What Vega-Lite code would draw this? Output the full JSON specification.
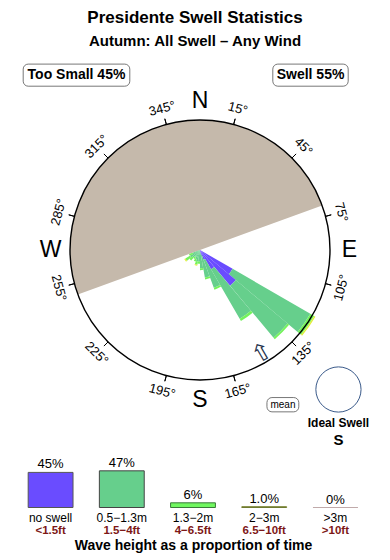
{
  "$schema": "https://vega.github.io/schema/vega-lite/v6.json",
  "width": 390,
  "height": 504,
  "autosize": {"type": "none"},
  "padding": {"top": 56, "left": 0, "right": 0, "bottom": 0},
  "config": {"view": {"stroke": null}, "font": "Liberation Sans"},
  "title": {
    "text": "Presidente Swell Statistics",
    "subtitle": "Autumn: All Swell – Any Wind",
    "anchor": "middle", "frame": "group",
    "font": "Liberation Sans", "fontSize": 17, "fontWeight": "bold", "color": "#000",
    "subtitleFont": "Liberation Sans", "subtitleFontSize": 15, "subtitleFontWeight": "bold", "subtitleColor": "#000",
    "subtitlePadding": 7, "offset": 6
  },
  "datasets": {
    "petals": [
      {"d0":120,"d1":130,"cls":"no swell","k":1,"f":2.9},
      {"d0":120,"d1":130,"cls":"0.5−1.3m","k":2,"f":6.9},
      {"d0":120,"d1":130,"cls":"1.3−2m","k":3,"f":0.35},
      {"d0":120,"d1":130,"cls":"2−3m","k":4,"f":0.1},
      {"d0":130,"d1":140,"cls":"no swell","k":1,"f":3.6},
      {"d0":130,"d1":140,"cls":"0.5−1.3m","k":2,"f":5.2},
      {"d0":130,"d1":140,"cls":"1.3−2m","k":3,"f":0.15},
      {"d0":140,"d1":150,"cls":"no swell","k":1,"f":1.7},
      {"d0":140,"d1":150,"cls":"0.5−1.3m","k":2,"f":4.4},
      {"d0":140,"d1":150,"cls":"1.3−2m","k":3,"f":0.2},
      {"d0":150,"d1":160,"cls":"no swell","k":1,"f":0.8},
      {"d0":150,"d1":160,"cls":"0.5−1.3m","k":2,"f":2.3},
      {"d0":150,"d1":160,"cls":"1.3−2m","k":3,"f":0.15},
      {"d0":160,"d1":170,"cls":"no swell","k":1,"f":0.4},
      {"d0":160,"d1":170,"cls":"0.5−1.3m","k":2,"f":1.75},
      {"d0":160,"d1":170,"cls":"1.3−2m","k":3,"f":0.15},
      {"d0":170,"d1":180,"cls":"no swell","k":1,"f":0.2},
      {"d0":170,"d1":180,"cls":"0.5−1.3m","k":2,"f":1.2},
      {"d0":170,"d1":180,"cls":"1.3−2m","k":3,"f":0.15},
      {"d0":180,"d1":190,"cls":"0.5−1.3m","k":2,"f":0.9},
      {"d0":180,"d1":190,"cls":"1.3−2m","k":3,"f":0.15},
      {"d0":190,"d1":200,"cls":"0.5−1.3m","k":2,"f":0.9},
      {"d0":190,"d1":200,"cls":"1.3−2m","k":3,"f":0.25},
      {"d0":190,"d1":200,"cls":"2−3m","k":4,"f":0.08},
      {"d0":200,"d1":210,"cls":"0.5−1.3m","k":2,"f":0.75},
      {"d0":200,"d1":210,"cls":"1.3−2m","k":3,"f":0.2},
      {"d0":210,"d1":220,"cls":"0.5−1.3m","k":2,"f":0.6},
      {"d0":210,"d1":220,"cls":"1.3−2m","k":3,"f":0.2},
      {"d0":220,"d1":230,"cls":"0.5−1.3m","k":2,"f":0.75},
      {"d0":220,"d1":230,"cls":"1.3−2m","k":3,"f":0.3},
      {"d0":230,"d1":240,"cls":"0.5−1.3m","k":2,"f":0.9},
      {"d0":230,"d1":240,"cls":"1.3−2m","k":3,"f":0.4},
      {"d0":230,"d1":240,"cls":"2−3m","k":4,"f":0.1},
      {"d0":240,"d1":250,"cls":"0.5−1.3m","k":2,"f":0.6},
      {"d0":240,"d1":250,"cls":"1.3−2m","k":3,"f":0.3}
    ],
    "degs": [
      {"deg":15,"lab":"15°"},{"deg":45,"lab":"45°"},{"deg":75,"lab":"75°"},
      {"deg":105,"lab":"105°"},{"deg":135,"lab":"135°"},{"deg":165,"lab":"165°"},
      {"deg":195,"lab":"195°"},{"deg":225,"lab":"225°"},{"deg":255,"lab":"255°"},
      {"deg":285,"lab":"285°"},{"deg":315,"lab":"315°"},{"deg":345,"lab":"345°"}
    ],
    "cards": [
      {"deg":0,"c":"N"},{"deg":90,"c":"E"},{"deg":180,"c":"S"},{"deg":270,"c":"W"}
    ],
    "heights": [
      {"cls":"no swell","ft":"<1.5ft","pct":45,"ptxt":"45%"},
      {"cls":"0.5−1.3m","ft":"1.5−4ft","pct":47,"ptxt":"47%"},
      {"cls":"1.3−2m","ft":"4−6.5ft","pct":6,"ptxt":"6%"},
      {"cls":"2−3m","ft":"6.5−10ft","pct":1,"ptxt":"1.0%"},
      {"cls":">3m","ft":">10ft","pct":0,"ptxt":"0%"}
    ],
    "one": [{"item": "annotation"}]
  },
  "layer": [
    {
      "layer": [
        {
          "data": {"name": "one"},
          "mark": {"type": "arc", "fill": "#c5b9ab"},
          "encoding": {
            "x": {"datum": 0, "type": "quantitative", "scale": {"domain": [-10, 10], "range": [70, 330]}, "axis": null},
            "y": {"datum": 0, "type": "quantitative", "scale": {"domain": [-10, 10], "range": [324, 64]}, "axis": null},
            "theta": {"datum": 250, "type": "quantitative", "scale": {"domain": [0, 360], "range": [0, 6.283185307179586]}, "stack": null},
            "theta2": {"datum": 430},
            "radius": {"datum": 10, "type": "quantitative", "scale": {"type": "linear", "domain": [0, 10], "range": [0, 130]}, "stack": null}
          }
        },
        {
          "data": {"name": "petals"},
          "transform": [{"stack": "f", "groupby": ["d0"], "sort": [{"field": "k"}], "as": ["r0", "r1"]}],
          "mark": {"type": "arc"},
          "encoding": {
            "x": {"datum": 0, "type": "quantitative", "scale": {"domain": [-10, 10], "range": [70, 330]}, "axis": null},
            "y": {"datum": 0, "type": "quantitative", "scale": {"domain": [-10, 10], "range": [324, 64]}, "axis": null},
            "theta": {"field": "d0", "type": "quantitative", "scale": {"domain": [0, 360], "range": [0, 6.283185307179586]}, "stack": null},
            "theta2": {"field": "d1"},
            "radius": {"field": "r1", "type": "quantitative", "scale": {"type": "linear", "domain": [0, 10], "range": [0, 130]}, "stack": null},
            "radius2": {"field": "r0"},
            "color": {"field": "cls", "type": "nominal", "legend": null,
              "scale": {"domain": ["no swell","0.5−1.3m","1.3−2m","2−3m",">3m"], "range": ["#6a4cff","#66cf8c","#74f25c","#e2ee3a","#d4a9b0"]}}
          }
        },
        {
          "data": {"name": "one"},
          "mark": {"type": "arc", "filled": false, "stroke": "#000", "strokeWidth": 1.4},
          "encoding": {
            "x": {"datum": 0, "type": "quantitative", "scale": {"domain": [-10, 10], "range": [70, 330]}, "axis": null},
            "y": {"datum": 0, "type": "quantitative", "scale": {"domain": [-10, 10], "range": [324, 64]}, "axis": null},
            "theta": {"datum": 0, "type": "quantitative", "scale": {"domain": [0, 360], "range": [0, 6.283185307179586]}, "stack": null},
            "theta2": {"datum": 360},
            "radius": {"datum": 10, "type": "quantitative", "scale": {"type": "linear", "domain": [0, 10], "range": [0, 130]}, "stack": null}
          }
        },
        {
          "data": {"name": "degs"},
          "mark": {"type": "arc", "filled": false, "stroke": "#000", "strokeWidth": 1},
          "encoding": {
            "x": {"datum": 0, "type": "quantitative", "scale": {"domain": [-10, 10], "range": [70, 330]}, "axis": null},
            "y": {"datum": 0, "type": "quantitative", "scale": {"domain": [-10, 10], "range": [324, 64]}, "axis": null},
            "theta": {"field": "deg", "type": "quantitative", "scale": {"domain": [0, 360], "range": [0, 6.283185307179586]}, "stack": null},
            "theta2": {"field": "deg"},
            "radius": {"datum": 10.45, "type": "quantitative", "scale": {"type": "linear", "domain": [0, 10], "range": [0, 130]}, "stack": null},
            "radius2": {"datum": 10}
          }
        },
        {
          "data": {"name": "degs"},
          "mark": {"type": "text", "fontSize": 13, "baseline": "middle", "align": "center", "color": "#000"},
          "encoding": {
            "x": {"datum": 0, "type": "quantitative", "scale": {"domain": [-10, 10], "range": [70, 330]}, "axis": null},
            "y": {"datum": 0, "type": "quantitative", "scale": {"domain": [-10, 10], "range": [324, 64]}, "axis": null},
            "theta": {"field": "deg", "type": "quantitative", "scale": {"domain": [0, 360], "range": [0, 6.283185307179586]}, "stack": null},
            "radius": {"datum": 11.25, "type": "quantitative", "scale": {"type": "linear", "domain": [0, 10], "range": [0, 130]}, "stack": null},
            "angle": {"field": "deg", "type": "quantitative", "scale": {"domain": [0, 90, 90.01, 270, 270.01, 360], "range": [0, 90, -90, 90, -90, 0]}, "legend": null},
            "text": {"field": "lab"}
          }
        },
        {
          "data": {"name": "cards"},
          "mark": {"type": "text", "fontSize": 23, "baseline": "middle", "align": "center", "color": "#000"},
          "encoding": {
            "x": {"datum": 0, "type": "quantitative", "scale": {"domain": [-10, 10], "range": [70, 330]}, "axis": null},
            "y": {"datum": 0, "type": "quantitative", "scale": {"domain": [-10, 10], "range": [324, 64]}, "axis": null},
            "theta": {"field": "deg", "type": "quantitative", "scale": {"domain": [0, 360], "range": [0, 6.283185307179586]}, "stack": null},
            "radius": {"datum": 11.5, "type": "quantitative", "scale": {"type": "linear", "domain": [0, 10], "range": [0, 130]}, "stack": null},
            "text": {"field": "c"}
          }
        },
        {
          "data": {"name": "one"},
          "mark": {"type": "text", "text": "⇧", "font": "DejaVu Sans", "fontSize": 24, "baseline": "middle", "align": "center", "angle": 330, "color": "#22304a"},
          "encoding": {
            "x": {"datum": 0, "type": "quantitative", "scale": {"domain": [-10, 10], "range": [70, 330]}, "axis": null},
            "y": {"datum": 0, "type": "quantitative", "scale": {"domain": [-10, 10], "range": [324, 64]}, "axis": null},
            "theta": {"datum": 149, "type": "quantitative", "scale": {"domain": [0, 360], "range": [0, 6.283185307179586]}, "stack": null},
            "radius": {"datum": 9.3, "type": "quantitative", "scale": {"type": "linear", "domain": [0, 10], "range": [0, 130]}, "stack": null}
          }
        },
        {
          "data": {"name": "one"},
          "mark": {"type": "rect", "cornerRadius": 5, "fill": "#fff", "stroke": "#777", "strokeWidth": 1},
          "encoding": {
            "x": {"datum": -13.6, "type": "quantitative", "scale": {"domain": [-10, 10], "range": [70, 330]}, "axis": null},
            "x2": {"datum": -5.4},
            "y": {"datum": 14.3, "type": "quantitative", "scale": {"domain": [-10, 10], "range": [324, 64]}, "axis": null},
            "y2": {"datum": 12.6}
          }
        },
        {
          "data": {"name": "one"},
          "mark": {"type": "text", "text": "Too Small 45%", "fontSize": 14, "fontWeight": "bold", "baseline": "middle", "align": "center", "color": "#000"},
          "encoding": {
            "x": {"datum": -9.5, "type": "quantitative", "scale": {"domain": [-10, 10], "range": [70, 330]}, "axis": null},
            "y": {"datum": 13.45, "type": "quantitative", "scale": {"domain": [-10, 10], "range": [324, 64]}, "axis": null}
          }
        },
        {
          "data": {"name": "one"},
          "mark": {"type": "rect", "cornerRadius": 5, "fill": "#fff", "stroke": "#777", "strokeWidth": 1},
          "encoding": {
            "x": {"datum": 5.6, "type": "quantitative", "scale": {"domain": [-10, 10], "range": [70, 330]}, "axis": null},
            "x2": {"datum": 11.4},
            "y": {"datum": 14.3, "type": "quantitative", "scale": {"domain": [-10, 10], "range": [324, 64]}, "axis": null},
            "y2": {"datum": 12.6}
          }
        },
        {
          "data": {"name": "one"},
          "mark": {"type": "text", "text": "Swell 55%", "fontSize": 14, "fontWeight": "bold", "baseline": "middle", "align": "center", "color": "#000"},
          "encoding": {
            "x": {"datum": 8.5, "type": "quantitative", "scale": {"domain": [-10, 10], "range": [70, 330]}, "axis": null},
            "y": {"datum": 13.45, "type": "quantitative", "scale": {"domain": [-10, 10], "range": [324, 64]}, "axis": null}
          }
        },
        {
          "data": {"name": "one"},
          "mark": {"type": "rect", "cornerRadius": 5, "fill": "#fff", "stroke": "#777", "strokeWidth": 1},
          "encoding": {
            "x": {"datum": 5.15, "type": "quantitative", "scale": {"domain": [-10, 10], "range": [70, 330]}, "axis": null},
            "x2": {"datum": 7.6},
            "y": {"datum": -11.35, "type": "quantitative", "scale": {"domain": [-10, 10], "range": [324, 64]}, "axis": null},
            "y2": {"datum": -12.45}
          }
        },
        {
          "data": {"name": "one"},
          "mark": {"type": "text", "text": "mean", "fontSize": 10, "baseline": "middle", "align": "center", "color": "#000"},
          "encoding": {
            "x": {"datum": 6.38, "type": "quantitative", "scale": {"domain": [-10, 10], "range": [70, 330]}, "axis": null},
            "y": {"datum": -11.9, "type": "quantitative", "scale": {"domain": [-10, 10], "range": [324, 64]}, "axis": null}
          }
        },
        {
          "data": {"name": "one"},
          "mark": {"type": "point", "shape": "circle", "size": 2043, "filled": false, "stroke": "#3a5a8a", "strokeWidth": 1, "opacity": 1},
          "encoding": {
            "x": {"datum": 10.65, "type": "quantitative", "scale": {"domain": [-10, 10], "range": [70, 330]}, "axis": null},
            "y": {"datum": -10.73, "type": "quantitative", "scale": {"domain": [-10, 10], "range": [324, 64]}, "axis": null}
          }
        },
        {
          "data": {"name": "one"},
          "mark": {"type": "text", "text": "Ideal Swell", "fontSize": 12, "fontWeight": "bold", "baseline": "middle", "align": "center", "color": "#000"},
          "encoding": {
            "x": {"datum": 10.65, "type": "quantitative", "scale": {"domain": [-10, 10], "range": [70, 330]}, "axis": null},
            "y": {"datum": -13.3, "type": "quantitative", "scale": {"domain": [-10, 10], "range": [324, 64]}, "axis": null}
          }
        },
        {
          "data": {"name": "one"},
          "mark": {"type": "text", "text": "S", "fontSize": 15, "fontWeight": "bold", "baseline": "middle", "align": "center", "color": "#000"},
          "encoding": {
            "x": {"datum": 10.65, "type": "quantitative", "scale": {"domain": [-10, 10], "range": [70, 330]}, "axis": null},
            "y": {"datum": -14.6, "type": "quantitative", "scale": {"domain": [-10, 10], "range": [324, 64]}, "axis": null}
          }
        }
      ]
    },
    {
      "data": {"name": "heights"},
      "layer": [
        {
          "mark": {"type": "bar", "strokeWidth": 1},
          "encoding": {
            "x": {"field": "cls", "type": "nominal", "sort": null,
              "scale": {"domain": ["no swell","0.5−1.3m","1.3−2m","2−3m",">3m"], "range": [15, 371], "paddingInner": 0.37, "paddingOuter": 0.185},
              "axis": {"orient": "bottom", "title": "Wave height as a proportion of time", "labels": false, "ticks": false, "domain": false, "grid": false, "offset": -22, "titlePadding": 0, "titleFont": "Liberation Sans", "titleFontSize": 14, "titleFontWeight": "bold", "titleColor": "#000"}},
            "y": {"field": "pct", "type": "quantitative", "scale": {"domain": [0, 100], "range": [451.5, 373.5]}, "axis": null},
            "y2": {"datum": 0},
            "color": {"field": "cls", "type": "nominal", "legend": null,
              "scale": {"domain": ["no swell","0.5−1.3m","1.3−2m","2−3m",">3m"], "range": ["#6a4cff","#66cf8c","#70f860","#e2ee3a","#d4a9b0"]}},
            "stroke": {"field": "cls", "type": "nominal", "legend": null,
              "scale": {"domain": ["no swell","0.5−1.3m","1.3−2m","2−3m",">3m"], "range": ["#555","#444","#3a7a3a","#6f7a30","#c0aaaa"]}}
          }
        },
        {
          "mark": {"type": "text", "fontSize": 13, "baseline": "alphabetic", "dy": -4, "color": "#000"},
          "encoding": {
            "x": {"field": "cls", "type": "nominal", "sort": null},
            "y": {"field": "pct", "type": "quantitative"},
            "text": {"field": "ptxt"}
          }
        },
        {
          "mark": {"type": "text", "fontSize": 12, "baseline": "middle", "dy": 10, "color": "#000"},
          "encoding": {
            "x": {"field": "cls", "type": "nominal", "sort": null},
            "y": {"datum": 0, "type": "quantitative"},
            "text": {"field": "cls"}
          }
        },
        {
          "mark": {"type": "text", "fontSize": 11.5, "fontWeight": "bold", "baseline": "middle", "dy": 23.5, "color": "#7d1717"},
          "encoding": {
            "x": {"field": "cls", "type": "nominal", "sort": null},
            "y": {"datum": 0, "type": "quantitative"},
            "text": {"field": "ft"}
          }
        }
      ]
    }
  ],
  "resolve": {"scale": {"x": "independent", "y": "independent", "color": "independent", "stroke": "independent", "theta": "independent", "radius": "independent"}, "axis": {"x": "independent", "y": "independent"}}
}
